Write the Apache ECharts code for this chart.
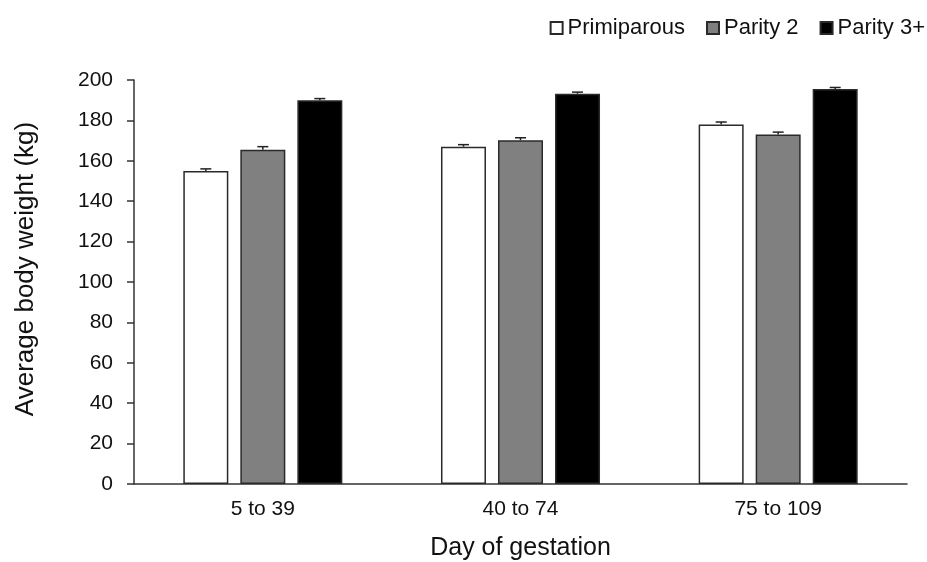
<!DOCTYPE html>
<html>
<head>
<meta charset="utf-8">
<script src="https://cdn.jsdelivr.net/npm/echarts@6/dist/echarts.min.js"></script>
<style>
  html, body { margin: 0; padding: 0; background: #fff; }
  #main { width: 927px; height: 562px; }
</style>
</head>
<body>
<div id="main"></div>
<script>
const categories = ["5 to 39", "40 to 74", "75 to 109"];
const seriesNames = ["Primiparous", "Parity 2", "Parity 3+"];
const primiparous = [155, 167, 178];
const parity2 = [165.5, 170.2, 173];
const parity3 = [190, 193.2, 195.5];
// standard errors (upper whiskers)
const primiparousSE = [1, 1, 1.2];
const parity2SE = [1.5, 1.2, 1.2];
const parity3SE = [0.8, 0.8, 0.8];
const yTicks = [0, 20, 40, 60, 80, 100, 120, 140, 160, 180, 200];

const barWidth = 45;
const barGapPx = 12;
const fills = ["#ffffff", "#808080", "#000000"];
const values = [primiparous, parity2, parity3];
const errors = [primiparousSE, parity2SE, parity3SE];

const chart = echarts.init(document.getElementById("main"));

function errorSeries(idx) {
  const offset = (idx - 1) * (barWidth + barGapPx);
  return {
    type: "custom",
    name: seriesNames[idx] + " SE",
    z: 10,
    silent: true,
    data: categories.map((c, i) => [i, values[idx][i], values[idx][i] + errors[idx][i]]),
    renderItem: function (params, api) {
      const base = api.coord([api.value(0), api.value(1)]);
      const top = api.coord([api.value(0), api.value(2)]);
      const x = base[0] + offset;
      const style = { stroke: "#222", lineWidth: 1.5 };
      return {
        type: "group",
        children: [
          { type: "line", shape: { x1: x, y1: base[1], x2: x, y2: top[1] }, style: style },
          { type: "line", shape: { x1: x - 5.5, y1: top[1], x2: x + 5.5, y2: top[1] }, style: style }
        ]
      };
    }
  };
}

const barSeries = seriesNames.map((name, idx) => ({
  name: name,
  type: "bar",
  data: values[idx],
  barWidth: barWidth,
  barGap: (barGapPx / barWidth * 100).toFixed(1) + "%",
  itemStyle: {
    color: fills[idx],
    borderColor: "#2a2a2a",
    borderWidth: 1.5
  }
}));

chart.setOption({
  animation: false,
  textStyle: { fontFamily: "Liberation Sans, Arial, sans-serif" },
  legend: {
    data: seriesNames,
    right: -3,
    top: 12,
    itemWidth: 12,
    itemHeight: 12,
    itemGap: 21,
    icon: "rect",
    textStyle: { fontSize: 22, color: "#111" }
  },
  grid: { left: 134, right: 20, top: 80, bottom: 78, outerBoundsMode: "none" },
  xAxis: {
    type: "category",
    data: categories,
    name: "Day of gestation",
    nameLocation: "middle",
    nameGap: 52,
    nameTextStyle: { fontSize: 25, color: "#111" },
    axisLine: { lineStyle: { color: "#333", width: 1.5 } },
    axisTick: { alignWithLabel: true, length: 6, lineStyle: { color: "#333", width: 1.5 } },
    axisLabel: { fontSize: 21, color: "#111", margin: 15 }
  },
  yAxis: {
    type: "value",
    min: 0,
    max: 200,
    interval: 20,
    name: "Average body weight (kg)",
    nameLocation: "middle",
    nameGap: 95,
    nameTextStyle: { fontSize: 26, color: "#111", padding: [0, 0, 0, 26] },
    splitLine: { show: false },
    axisLine: { show: true, lineStyle: { color: "#333", width: 1.5 } },
    axisTick: { show: true, length: 7, lineStyle: { color: "#333", width: 1.5 } },
    axisLabel: {
      fontSize: 21,
      color: "#111",
      margin: 21,
      formatter: v => (yTicks.includes(v) ? String(v) : "")
    }
  },
  series: barSeries.concat([errorSeries(0), errorSeries(1), errorSeries(2)])
});
</script>
</body>
</html>
